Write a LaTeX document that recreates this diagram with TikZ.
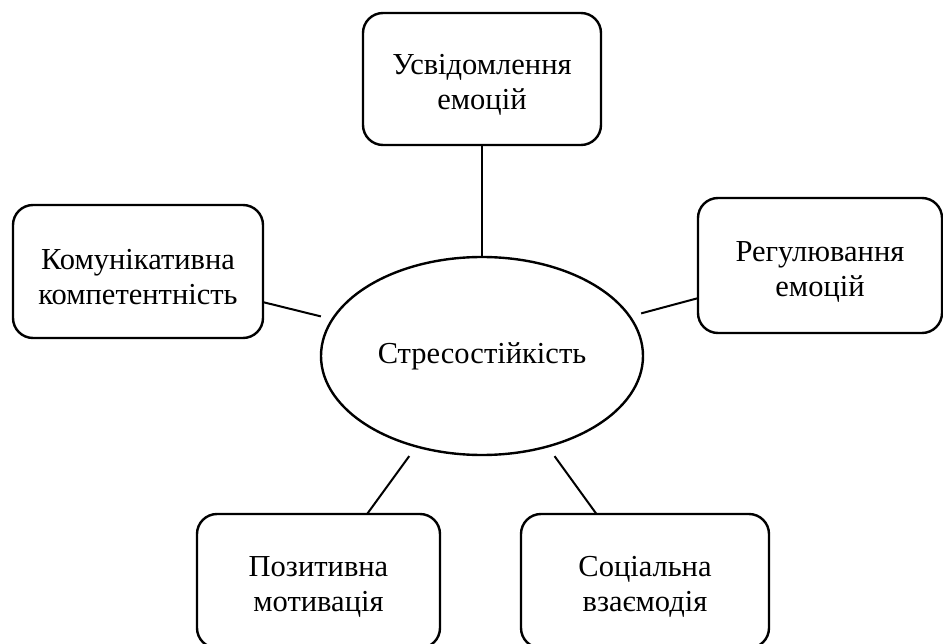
\documentclass[tikz,border=0pt]{standalone}
\usepackage{fontspec}
\setmainfont{Liberation Serif}
\usetikzlibrary{shapes.geometric}
\newcommand{\lowerstrut}{\rule{0pt}{32pt}}
\tikzset{
  box/.style={draw, line width=2.4pt, rounded corners=20pt, align=center, inner sep=0pt, outer sep=0pt},
  hub/.style={draw, ellipse, line width=2.4pt, inner sep=0pt, outer sep=0pt, minimum width=322pt, minimum height=198pt},
  link/.style={line width=2pt, shorten >=12pt},
}
\begin{document}
\begin{tikzpicture}[x=1pt,y=-1pt, font=\fontsize{30.5}{35}\selectfont]
\useasboundingbox (0,0) rectangle (943,644);
\node[hub] (ell) at (482,356) {Стресостійкість};
\node[box, minimum width=238pt, minimum height=132pt] (top) at (482,79) {\lowerstrut Усвідомлення\\емоцій};
\node[box, minimum width=250pt, minimum height=133pt] (left) at (138,271.5) {\lowerstrut Комунікативна\\компетентність};
\node[box, minimum width=244pt, minimum height=135pt] (right) at (820,265.5) {\lowerstrut Регулювання\\емоцій};
\node[box, minimum width=243pt, minimum height=134pt] (bl) at (318.5,581) {\lowerstrut Позитивна\\мотивація};
\node[box, minimum width=248pt, minimum height=134pt] (br) at (645,581) {\lowerstrut Соціальна\\взаємодія};
\draw[line width=2pt] (top) -- (ell);
\draw[link] (left) -- (ell);
\draw[link] (right) -- (ell);
\draw[link] (bl) -- (ell);
\draw[link] (br) -- (ell);
\end{tikzpicture}
\end{document}
